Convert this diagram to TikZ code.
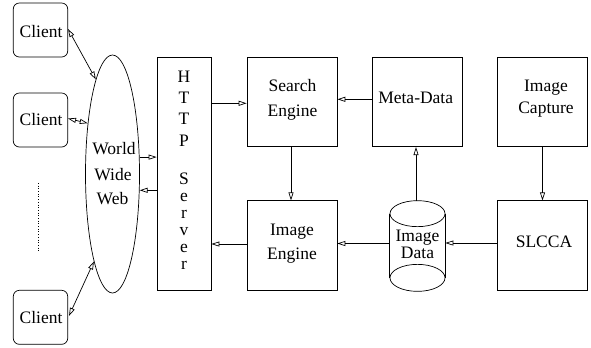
\documentclass[tikz,border=0pt]{standalone}
\usepackage{fontspec}
\setmainfont{Liberation Serif}
\usetikzlibrary{arrows.meta,shapes.geometric}
\begin{document}
\begin{tikzpicture}[x=1bp,y=-1bp,
  every path/.style={line width=0.7bp},
  box/.style={draw,rectangle,inner sep=0,minimum width=90bp,minimum height=89.5bp},
  client/.style={draw,rectangle,rounded corners=6bp,inner sep=0,minimum width=54.4bp,minimum height=54bp},
  txt/.style={anchor=base,inner sep=0,font=\fontsize{17.5bp}{21bp}\selectfont},
  arr/.style={-{Triangle[open,length=8bp,width=5bp]}},
  dbl/.style={{Triangle[open,length=8bp,width=5bp]}-{Triangle[open,length=8bp,width=5bp]}}]
\useasboundingbox (0,0) rectangle (591,347);
% clients
\node[client] (c1) at (40.5,30) {};
\node[client] (c2) at (40.5,120) {};
\node[client] (c3) at (40.5,317.3) {};
\node[txt] (c1t) at (41,37.5) {Client};
\node[txt] (c2t) at (41,125) {Client};
\node[txt] (c3t) at (41,323) {Client};
\coordinate (d1) at (38.3,183);
\coordinate (d2) at (38.3,253);
\draw[dotted,line width=0.5bp] (d1) -- (d2);
% world wide web
\node[draw,ellipse,inner sep=0,minimum width=54bp,minimum height=238bp] (www) at (112.5,174) {};
\node[txt] (w1) at (114,154) {World};
\node[txt] (w2) at (113,180.5) {Wide};
\node[txt] (w3) at (112.5,204) {Web};
% HTTP server
\node[draw,rectangle,inner sep=0,minimum width=54bp,minimum height=233bp] (http) at (184,173.5) {};
\foreach \ch/\yy [count=\i] in {H/82,T/103,T/124.5,P/146,S/184,e/201,r/218,v/235,e/252,r/269}
  \node[txt] (h\i) at (184,\yy) {\ch};
% boxes
\node[box] (se) at (292,102) {};
\node[txt] (se1) at (292.5,91) {Search};
\node[txt] (se2) at (292.5,116) {Engine};
\node[box] (ie) at (292,245.5) {};
\node[txt] (ie1) at (292,235) {Image};
\node[txt] (ie2) at (292,259) {Engine};
\node[box] (md) at (417,102) {};
\node[txt] (md1) at (415.7,103.5) {Meta-Data};
\node[box] (ic) at (542.5,102) {};
\node[txt] (ic1) at (546,91.7) {Image};
\node[txt] (ic2) at (546,113) {Capture};
\node[box] (sl) at (542.5,245.5) {};
\node[txt] (sl1) at (544,247.3) {SLCCA};
% image data cylinder
\node[rectangle,inner sep=0,minimum width=55bp,minimum height=90bp] (id) at (417.5,246) {};
\draw ([yshift=-13bp]id.north) ellipse [x radius=27.5bp,y radius=13bp];
\draw ([yshift=13.5bp]id.south) ellipse [x radius=27.5bp,y radius=13.5bp];
\draw ([yshift=-13bp]id.north west) -- ([yshift=13.5bp]id.south west);
\draw ([yshift=-13bp]id.north east) -- ([yshift=13.5bp]id.south east);
\node[txt] (id1) at (417.5,241.7) {Image};
\node[txt] (id2) at (417.5,258.3) {Data};
% connectors
\draw[dbl] ([yshift=1bp]c1.east) -- (www.100);
\draw[dbl] ([yshift=1.5bp]c2.east) -- (www.116.7);
\draw[dbl] ([yshift=1.5bp,xshift=1bp]c3.east) -- (www.258.6);
\draw[arr] (www.32.6) -- (www.32.6 -| http.west);
\draw[arr] (www.329 -| http.west) -- (www.329);
\coordinate (p1) at ([yshift=-1.3bp]se.west);
\draw[arr] (p1 -| http.east) -- (p1);
\coordinate (p2) at ([yshift=2.7bp]md.west);
\draw[arr] (p2) -- (p2 -| se.east);
\draw[arr] ([xshift=-1bp]se.south) -- ([xshift=-1bp]ie.north);
\coordinate (p3) at ([yshift=1.5bp]ie.west);
\draw[arr] (p3) -- (p3 -| http.east);
\coordinate (p4) at ([yshift=2.5bp]id.west);
\draw[arr] (p4) -- (p4 -| ie.east);
\coordinate (p6) at ([xshift=-1.5bp]id.north);
\draw[arr] (p6) -- (p6 |- md.south);
\draw[arr] (ic.south) -- (sl.north);
\coordinate (p5) at ([yshift=2.5bp]sl.west);
\draw[arr] (p5) -- (p5 -| id.east);
\end{tikzpicture}
\end{document}
